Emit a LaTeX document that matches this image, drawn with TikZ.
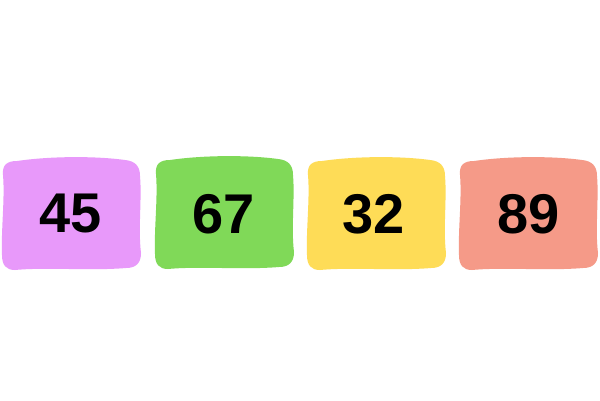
\documentclass[tikz,border=0pt]{standalone}
\usepackage{fontspec}
\setmainfont{Liberation Sans}
\definecolor{cpink}{RGB}{232,153,250}
\definecolor{cgreen}{RGB}{128,217,88}
\definecolor{cyellow}{RGB}{254,220,87}
\definecolor{csalmon}{RGB}{245,154,136}
\newcommand\myblob[3]{%
  \fill[#3,shift={(#1,#2)}]
    (16,108) .. controls (50,113) and (95,113) .. (124,109)
    .. controls (134,108) and (139,103) .. (139,93)
    .. controls (141,70) and (137,40) .. (140,16)
    .. controls (140,6) and (135,1) .. (125,1)
    .. controls (90,-2) and (45,2) .. (14,-1)
    .. controls (5,-1) and (1,4) .. (1,14)
    .. controls (0,40) and (4,70) .. (2,94)
    .. controls (1,104) and (6,108) .. (16,108) -- cycle;}
\begin{document}
\begin{tikzpicture}[x=1pt,y=1pt,
  numtext/.style={font=\fontsize{56}{56}\selectfont\bfseries,text=black,inner sep=0pt}]
\useasboundingbox (0,0) rectangle (600,400);
\fill[white] (0,0) rectangle (600,400);
\myblob{1}{131}{cpink}
\myblob{154}{132}{cgreen}
\myblob{306}{131}{cyellow}
\myblob{458}{131}{csalmon}
\node[numtext] (n1) at (71,186) {45};
\node[numtext] (n2) at (224,186) {67};
\node[numtext] (n3) at (374,186) {32};
\node[numtext] (n4) at (529,186) {89};
\end{tikzpicture}
\end{document}
